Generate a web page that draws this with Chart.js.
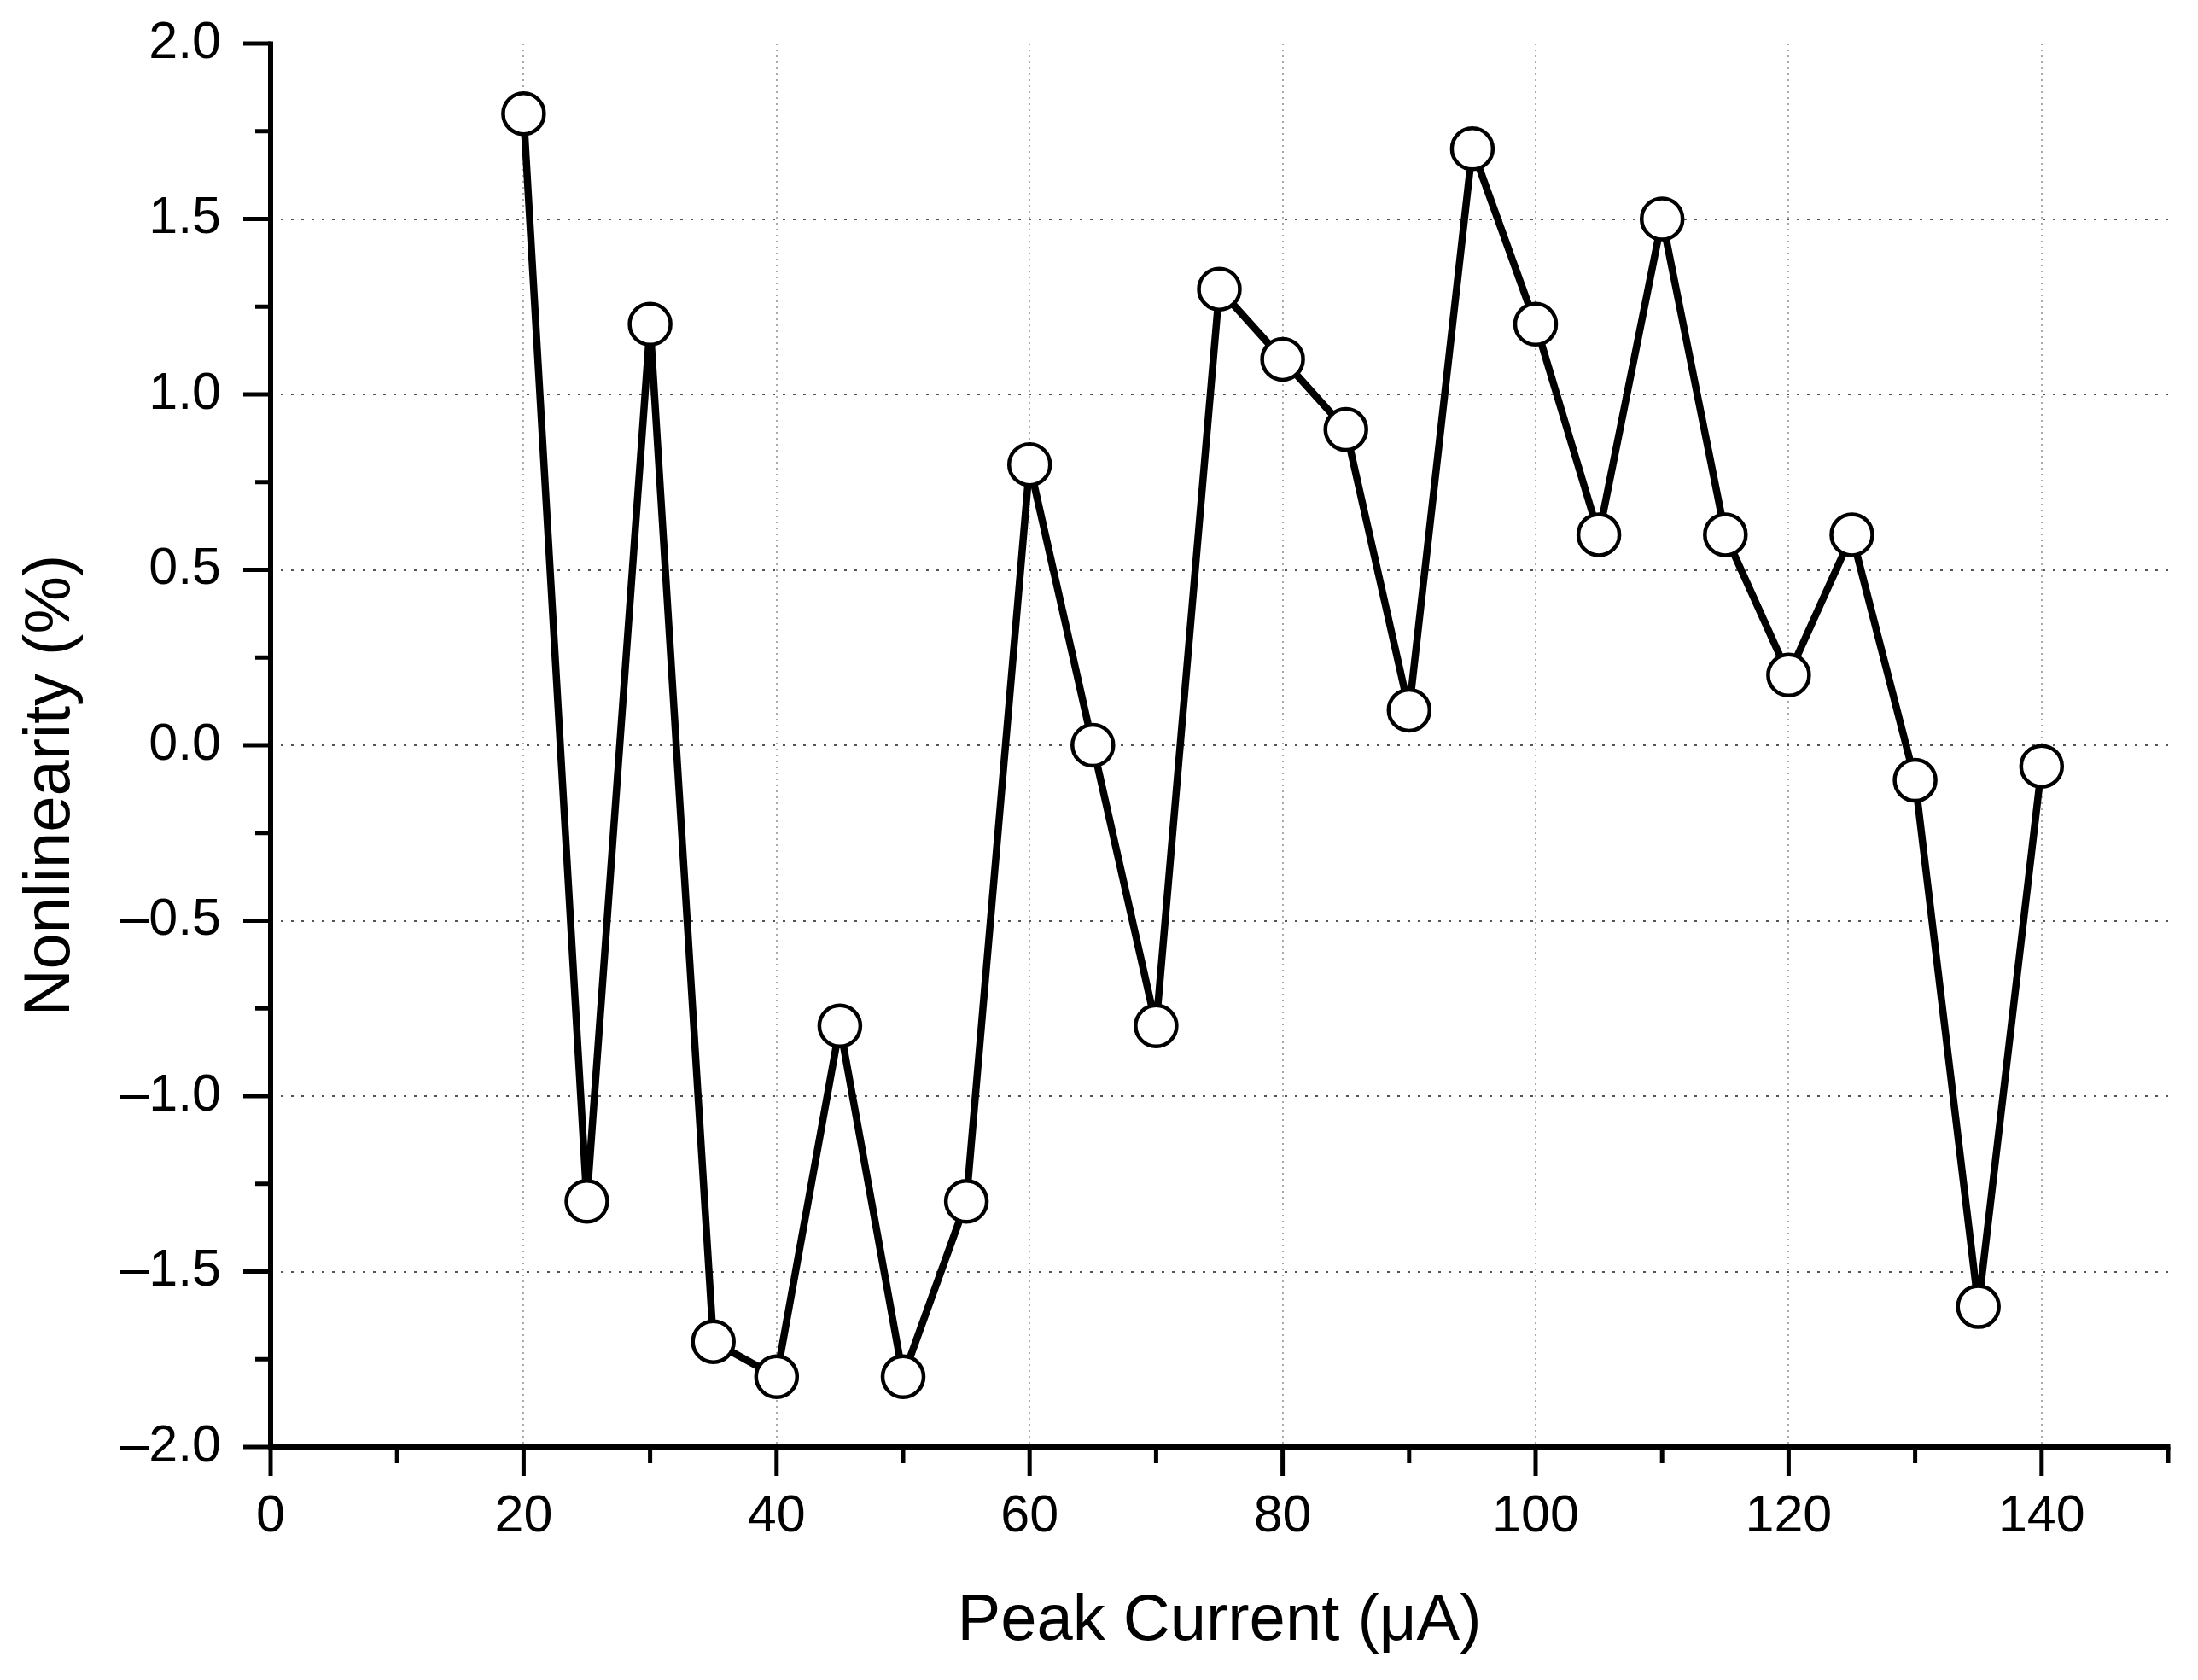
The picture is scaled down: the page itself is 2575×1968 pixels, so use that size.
<!DOCTYPE html>
<html>
<head>
<meta charset="utf-8">
<script src="https://cdn.jsdelivr.net/npm/chart.js@4/dist/chart.umd.min.js"></script>
<style>
  html, body { margin: 0; padding: 0; background: #ffffff; }
  #wrap { width: 2575px; height: 1968px; position: relative; }
  canvas { display: block; }
</style>
</head>
<body>
<div id="wrap"><canvas id="c" width="2575" height="1968"></canvas></div>
<script>
// ---- data ----
const peakCurrent = [20, 25, 30, 35, 40, 45, 50, 55, 60, 65, 70, 75, 80, 85, 90, 95, 100, 105, 110, 115, 120, 125, 130, 135, 140];
const nonlinearity = [1.8, -1.3, 1.2, -1.7, -1.8, -0.8, -1.8, -1.3, 0.8, 0.0, -0.8, 1.3, 1.1, 0.9, 0.1, 1.7, 1.2, 0.6, 1.5, 0.6, 0.2, 0.6, -0.1, -1.6, -0.06];
const xTickLabels = [0, 20, 40, 60, 80, 100, 120, 140];
const yTickLabels = ['\u20132.0', '\u20131.5', '\u20131.0', '\u20130.5', '0.0', '0.5', '1.0', '1.5', '2.0'];
const xTitle = 'Peak Current (\u03BCA)';
const yTitle = 'Nonlinearity (%)';

const FONT = "'Liberation Sans', Arial, sans-serif";
const isMult = (v, s) => Math.abs(Math.round(v / s) * s - v) < 1e-6;

const points = peakCurrent.map((x, i) => ({ x: x, y: nonlinearity[i] }));

// axes lines, major/minor ticks and y title drawn through the scales
const axesPlugin = {
  id: 'axesPlugin',
  afterDraw(chart) {
    const ctx = chart.ctx;
    const xs = chart.scales.x, ys = chart.scales.y;
    const y0 = ys.getPixelForValue(ys.min);
    const y1 = ys.getPixelForValue(ys.max);
    const x0 = xs.getPixelForValue(xs.min);
    const x1 = xs.getPixelForValue(xs.max);
    ctx.save();
    ctx.strokeStyle = '#000';
    ctx.lineCap = 'butt';
    ctx.lineWidth = 6;
    // y axis
    ctx.beginPath();
    ctx.moveTo(x0, y1 - 2.5);
    ctx.lineTo(x0, y0 + 3);
    ctx.stroke();
    // x axis
    ctx.beginPath();
    ctx.moveTo(x0 - 3, y0);
    ctx.lineTo(x1 + 2.5, y0);
    ctx.stroke();
    ctx.lineWidth = 5;
    // x ticks
    xs.ticks.forEach(t => {
      const p = xs.getPixelForValue(t.value);
      const len = isMult(t.value, 20) ? 34 : 19;
      ctx.beginPath();
      ctx.moveTo(p, y0);
      ctx.lineTo(p, y0 + len);
      ctx.stroke();
    });
    // y ticks
    ys.ticks.forEach(t => {
      const p = ys.getPixelForValue(t.value);
      const len = isMult(t.value, 0.5) ? 32 : 18;
      ctx.beginPath();
      ctx.moveTo(x0, p);
      ctx.lineTo(x0 - len, p);
      ctx.stroke();
    });
    // y title
    ctx.fillStyle = '#000';
    ctx.font = '76px ' + FONT;
    ctx.textAlign = 'center';
    ctx.textBaseline = 'middle';
    ctx.translate(60, (y0 + y1) / 2 + 47);
    ctx.rotate(-Math.PI / 2);
    ctx.fillText(yTitle, 0, 0);
    ctx.restore();
  }
};

new Chart(document.getElementById('c'), {
  type: 'line',
  data: {
    datasets: [{
      data: points,
      borderColor: '#000',
      borderWidth: 8.5,
      borderJoinStyle: 'round',
      borderCapStyle: 'round',
      pointRadius: 24,
      pointHoverRadius: 24,
      pointBorderWidth: 4.5,
      pointBackgroundColor: '#fff',
      pointBorderColor: '#000',
      tension: 0,
      fill: false
    }]
  },
  options: {
    responsive: false,
    animation: false,
    events: [],
    layout: { autoPadding: false, padding: { left: 0, top: 51, right: 35, bottom: 0 } },
    plugins: { legend: { display: false }, tooltip: { enabled: false } },
    scales: {
      x: {
        type: 'linear',
        min: 0, max: 150,
        afterFit(s) { s.height = 273; s.paddingLeft = 0; s.paddingRight = 0; },
        border: { display: false, dash: [2, 5] },
        grid: {
          drawTicks: false,
          lineWidth: 2,
          color: c => (isMult(c.tick.value, 20) && c.tick.value > 0 && c.tick.value < 150) ? '#aaaaaa' : 'rgba(0,0,0,0)'
        },
        ticks: {
          stepSize: 10,
          autoSkip: false,
          maxRotation: 0,
          padding: 46,
          color: '#000',
          font: { family: FONT, size: 61 },
          callback: v => xTickLabels.includes(v) ? String(v) : ''
        },
        title: {
          display: true,
          text: xTitle,
          color: '#000',
          font: { family: FONT, size: 76 },
          padding: { top: 0, bottom: 22 }
        }
      },
      y: {
        min: -2, max: 2,
        afterFit(s) { s.width = 317; s.paddingTop = 0; s.paddingBottom = 0; },
        border: { display: false, dash: [3, 9] },
        grid: {
          drawTicks: false,
          lineWidth: 2,
          color: c => (isMult(c.tick.value, 0.5) && Math.abs(c.tick.value) < 1.99) ? '#555555' : 'rgba(0,0,0,0)'
        },
        ticks: {
          stepSize: 0.25,
          autoSkip: false,
          padding: 58,
          color: '#000',
          font: { family: FONT, size: 61 },
          callback: v => {
            if (!isMult(v, 0.5)) return '';
            const idx = Math.round((v + 2) / 0.5);
            return yTickLabels[idx];
          }
        },
        title: { display: false }
      }
    }
  },
  plugins: [axesPlugin]
});
</script>
</body>
</html>
